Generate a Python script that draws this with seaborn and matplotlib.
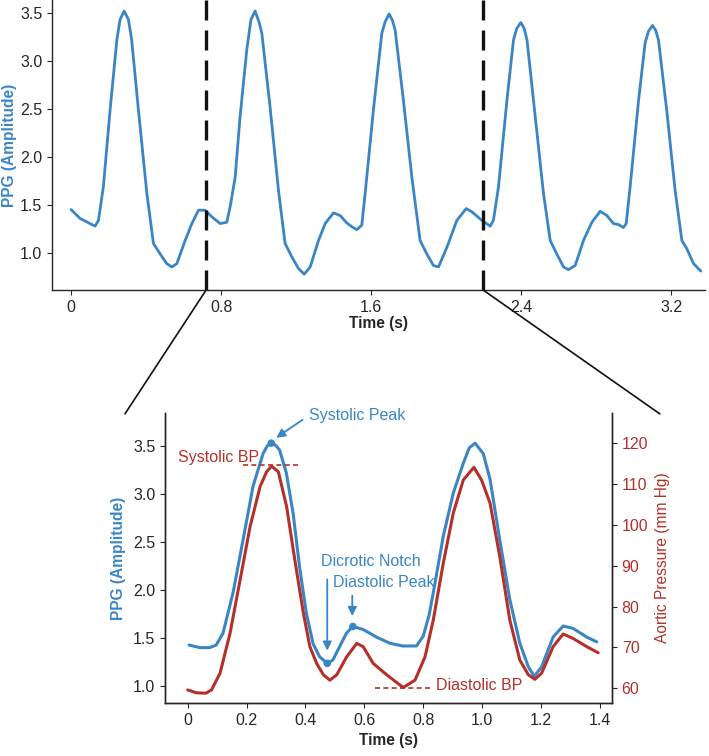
import matplotlib
matplotlib.use("Agg")
import matplotlib.pyplot as plt
from matplotlib.patches import ConnectionPatch
import seaborn as sns

# PPG trace, full recording (top panel)
ppg_t = [0.0, 0.048, 0.101, 0.128, 0.146, 0.172, 0.208, 0.244, 0.261, 0.283, 0.306, 0.323,
         0.359, 0.404, 0.439, 0.475, 0.510, 0.537, 0.564, 0.608, 0.644, 0.679,
         0.715, 0.751, 0.795, 0.830, 0.848, 0.875, 0.901, 0.937, 0.959, 0.981, 1.003, 1.017,
         1.061, 1.106, 1.141, 1.177, 1.212, 1.243, 1.275, 1.319, 1.355, 1.399,
         1.435, 1.470, 1.500, 1.524, 1.550, 1.568, 1.612, 1.657, 1.675, 1.696, 1.714, 1.728,
         1.772, 1.817, 1.861, 1.897, 1.932, 1.959, 2.004, 2.057, 2.107, 2.137,
         2.190, 2.235, 2.252, 2.279, 2.324, 2.359, 2.377, 2.398, 2.416, 2.431, 2.475, 2.519,
         2.555, 2.590, 2.626, 2.652, 2.688, 2.732, 2.777, 2.821, 2.857, 2.892,
         2.919, 2.945, 2.960, 2.981, 3.026, 3.061, 3.079, 3.100, 3.117, 3.132, 3.176, 3.221,
         3.257, 3.283, 3.319, 3.358]
ppg_v = [1.453, 1.36, 1.307, 1.28, 1.34, 1.69, 2.49, 3.22, 3.43, 3.52, 3.43, 3.22,
         2.49, 1.62, 1.10, 0.99, 0.89, 0.855, 0.89, 1.13, 1.307, 1.446,
         1.446, 1.376, 1.307, 1.32, 1.48, 1.79, 2.42, 3.12, 3.43, 3.52, 3.40, 3.29,
         2.52, 1.65, 1.10, 0.96, 0.84, 0.78, 0.855, 1.13, 1.307, 1.418,
         1.39, 1.313, 1.27, 1.244, 1.29, 1.62, 2.49, 3.29, 3.41, 3.49, 3.42, 3.32,
         2.59, 1.79, 1.13, 0.99, 0.87, 0.855, 1.06, 1.34, 1.463, 1.43,
         1.34, 1.28, 1.34, 1.69, 2.59, 3.22, 3.34, 3.40, 3.34, 3.22, 2.42, 1.62,
         1.13, 0.99, 0.855, 0.827, 0.87, 1.13, 1.32, 1.435, 1.39, 1.307,
         1.297, 1.265, 1.307, 1.69, 2.59, 3.19, 3.31, 3.37, 3.32, 3.22, 2.49, 1.65,
         1.13, 1.046, 0.89, 0.812]

# zoomed window (bottom panel)
zoom_t = [0.005, 0.041, 0.075, 0.097, 0.120, 0.154, 0.188, 0.222, 0.256, 0.270,
          0.284, 0.298, 0.312, 0.335, 0.358, 0.380, 0.403, 0.426, 0.448, 0.474,
          0.493, 0.516, 0.539, 0.561, 0.595, 0.641, 0.687, 0.731, 0.777, 0.800,
          0.820, 0.834, 0.868, 0.902, 0.936, 0.956, 0.976, 1.004, 1.027, 1.060,
          1.094, 1.128, 1.157, 1.177, 1.202, 1.241, 1.275, 1.309, 1.355, 1.389]
zoom_ppg = [1.427, 1.40, 1.40, 1.427, 1.55, 1.97, 2.52, 3.08, 3.42, 3.50,
            3.53, 3.51, 3.46, 3.22, 2.80, 2.24, 1.76, 1.44, 1.305, 1.236,
            1.27, 1.41, 1.55, 1.62, 1.59, 1.51, 1.445, 1.417, 1.417, 1.52,
            1.74, 1.97, 2.56, 3.01, 3.32, 3.48, 3.53, 3.42, 3.15, 2.52,
            1.90, 1.445, 1.20, 1.10, 1.20, 1.51, 1.625, 1.60, 1.51, 1.46]

bp_t = [0.0, 0.03, 0.062, 0.081, 0.11, 0.144, 0.178, 0.212, 0.246, 0.268,
        0.285, 0.308, 0.336, 0.364, 0.393, 0.415, 0.438, 0.461, 0.483, 0.506,
        0.54, 0.574, 0.596, 0.63, 0.676, 0.732, 0.772, 0.806, 0.834, 0.868,
        0.902, 0.936, 0.972, 0.998, 1.027, 1.06, 1.094, 1.128, 1.157, 1.179,
        1.202, 1.241, 1.275, 1.309, 1.355, 1.394]
bp_v = [59.6, 58.9, 58.8, 59.6, 63.7, 73.5, 86.5, 99.6, 109.4, 113.0,
        114.4, 113.0, 104.5, 91.4, 78.4, 70.2, 66.1, 63.3, 62.0, 63.3,
        67.7, 71.0, 70.2, 66.1, 63.3, 60.2, 62.0, 67.7, 76.7, 90.6,
        102.9, 111.0, 114.1, 111.0, 105.3, 92.2, 76.7, 66.9, 63.3, 62.2,
        63.7, 70.2, 73.3, 72.2, 70.2, 68.7]

# window limits shown by the dashed lines
win = [0.72, 2.197]

# fiducial points on the PPG
key_t = [0.284, 0.474, 0.561]
key_v = [3.53, 1.236, 1.62]
systolic_bp = 114.7
diastolic_bp = 60.0

blue = "#3a86c5"
red = "#b5302a"

sns.set_style("ticks")
plt.rcParams["font.family"] = ["Liberation Sans", "DejaVu Sans"]
plt.rcParams["font.size"] = 11.5
plt.rcParams["axes.linewidth"] = 1.0
plt.rcParams["xtick.major.size"] = 3.5
plt.rcParams["ytick.major.size"] = 3.5

fig = plt.figure(figsize=(7.09, 7.56), dpi=100)
ax1 = fig.add_axes([0.0733, 0.6164, 0.921, 0.3836])
ax2 = fig.add_axes([0.2327, 0.0701, 0.6305, 0.3836])
ax3 = ax2.twinx()

# top: full recording
sns.lineplot(x=ppg_t, y=ppg_v, ax=ax1, color=blue, lw=2.0, estimator=None,
             solid_joinstyle="round")
for w in win:
    ax1.axvline(w, color="#111111", lw=2.4, ls=(0, (6, 3)))
ax1.set_xlim(-0.102, 3.38)
ax1.set_ylim(0.615, 3.635)
ax1.set_xticks([0, 0.8, 1.6, 2.4, 3.2])
ax1.set_xticklabels(["0", "0.8", "1.6", "2.4", "3.2"])
ax1.set_yticks([1.0, 1.5, 2.0, 2.5, 3.0, 3.5])
ax1.set_yticklabels(["1.0", "1.5", "2.0", "2.5", "3.0", "3.5"])
ax1.set_xlabel("Time (s)", fontweight="bold", fontsize=11.2, labelpad=1)
ax1.set_ylabel("PPG (Amplitude)", color=blue, fontweight="bold", fontsize=11.2,
               labelpad=2)
sns.despine(ax=ax1)

# bottom: one window, PPG vs aortic pressure
sns.lineplot(x=zoom_t, y=zoom_ppg, ax=ax2, color=blue, lw=2.2, estimator=None,
             solid_joinstyle="round")
sns.scatterplot(x=key_t, y=key_v, ax=ax2, color=blue, s=30, edgecolor="none", zorder=5)
sns.lineplot(x=bp_t, y=bp_v, ax=ax3, color=red, lw=2.2, estimator=None,
             solid_joinstyle="round")

ax2.set_xlim(-0.077, 1.441)
ax2.set_ylim(0.823, 3.844)
ax3.set_ylim(56.4, 127.4)
ax2.set_xticks([0, 0.2, 0.4, 0.6, 0.8, 1.0, 1.2, 1.4])
ax2.set_xticklabels(["0", "0.2", "0.4", "0.6", "0.8", "1.0", "1.2", "1.4"])
ax2.set_yticks([1.0, 1.5, 2.0, 2.5, 3.0, 3.5])
ax2.set_yticklabels(["1.0", "1.5", "2.0", "2.5", "3.0", "3.5"])
ax3.set_yticks([60, 70, 80, 90, 100, 110, 120])
ax3.tick_params(axis="y", labelcolor=red)
ax2.set_xlabel("Time (s)", fontweight="bold", fontsize=11.2, labelpad=4)
ax2.set_ylabel("PPG (Amplitude)", color=blue, fontweight="bold", fontsize=11.2,
               labelpad=5)
ax3.set_ylabel("Aortic Pressure (mm Hg)", color=red, fontsize=11.2, labelpad=5)
for a in (ax2, ax3):
    a.spines["top"].set_visible(False)

# annotations
ax2.annotate("", xy=(0.293, 3.57), xytext=(0.398, 3.79),
             arrowprops=dict(arrowstyle="-|>", color=blue, lw=1.3, mutation_scale=13))
ax2.text(0.412, 3.82, "Systolic Peak", color=blue, va="center", ha="left")
ax2.annotate("", xy=(0.474, 1.34), xytext=(0.474, 2.14),
             arrowprops=dict(arrowstyle="-|>", color=blue, lw=1.3, mutation_scale=13))
ax2.text(0.453, 2.30, "Dicrotic Notch", color=blue, va="center", ha="left")
ax2.annotate("", xy=(0.559, 1.70), xytext=(0.559, 1.97),
             arrowprops=dict(arrowstyle="-|>", color=blue, lw=1.3, mutation_scale=13))
ax2.text(0.492, 2.08, "Diastolic Peak", color=blue, va="center", ha="left")

ax3.plot([0.188, 0.378], [systolic_bp, systolic_bp], color=red, lw=1.2, ls=(0, (3, 2)))
ax3.text(-0.033, 116.6, "Systolic BP", color=red, va="center", ha="left")
ax3.plot([0.636, 0.823], [diastolic_bp, diastolic_bp], color=red, lw=1.2, ls=(0, (3, 2)))
ax3.text(0.843, 60.6, "Diastolic BP", color=red, va="center", ha="left")

# zoom connector lines from the dashed window to the lower panel
for w, xb in zip(win, [-0.0895, 1.107]):
    con = ConnectionPatch(xyA=(w, 0.615), coordsA="data", axesA=ax1,
                          xyB=(xb, 0.997), coordsB="axes fraction", axesB=ax2,
                          color="#111111", lw=1.2)
    fig.add_artist(con)

fig.savefig("out.png", dpi=100)
